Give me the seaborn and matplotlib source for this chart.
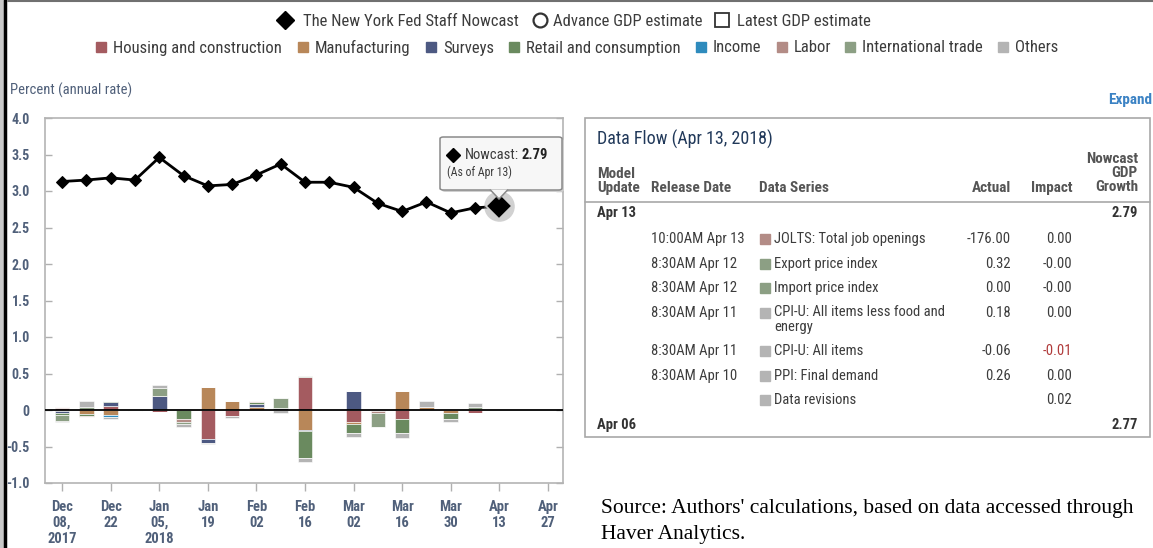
import matplotlib
matplotlib.use("Agg")
import matplotlib.pyplot as plt
from matplotlib import font_manager
from matplotlib.lines import Line2D
from matplotlib.patches import Rectangle, FancyBboxPatch, Polygon
import numpy as np
import pandas as pd
import seaborn as sns

# ---------------------------------------------------------------- datos
FECHAS_NOWCAST = ["2017-12-08", "2017-12-15", "2017-12-22", "2017-12-29",
                  "2018-01-05", "2018-01-12", "2018-01-19", "2018-01-26",
                  "2018-02-02", "2018-02-09", "2018-02-16", "2018-02-23",
                  "2018-03-02", "2018-03-09", "2018-03-16", "2018-03-23",
                  "2018-03-30", "2018-04-06", "2018-04-13"]
NOWCAST = [3.13, 3.15, 3.18, 3.15, 3.46, 3.21, 3.07, 3.09, 3.22, 3.37,
           3.12, 3.12, 3.05, 2.83, 2.72, 2.85, 2.70, 2.77, 2.79]

FECHAS_BARRAS = FECHAS_NOWCAST[:-1]
HOUSING = [0.03, 0, 0.05, 0, -0.03, 0, -0.40, -0.08, 0, 0,
           0.45, 0, -0.17, 0, -0.12, 0, 0, -0.04]
MANUFACTURING = [-0.01, -0.05, -0.065, -0.02, 0, 0, 0.31, 0.13, 0.045, 0,
                 -0.27, 0, -0.025, 0, 0.265, 0.045, -0.045, 0]
SURVEYS = [-0.035, 0, 0.055, 0, 0.19, 0, -0.055, 0, 0.04, 0.03,
           -0.015, 0, 0.265, -0.02, 0, 0, 0, 0.02]
RETAIL = [-0.02, -0.03, 0.02, 0, 0, -0.13, 0, 0, 0.02, 0,
          -0.375, 0, -0.115, 0, -0.195, 0, -0.075, 0]
INCOME = [0, 0, -0.025, 0, 0, 0, 0, 0, 0, 0,
          0, 0, 0, 0, 0, 0, 0, 0]
LABOR = [0.015, -0.02, 0, 0, 0, -0.03, 0, 0, 0.015, 0,
         0, 0, 0, -0.02, 0, 0, 0, 0]
INTL_TRADE = [-0.09, 0.035, 0, 0, 0.11, -0.03, 0, 0, 0, 0.13,
              0.02, 0, 0, -0.19, 0, 0, 0, 0.02]
OTHERS = [-0.015, 0.09, -0.03, 0, 0.045, -0.045, -0.015, -0.035, 0, -0.035,
          -0.055, 0, -0.06, 0, -0.07, 0.08, -0.04, 0.055]

CATEGORIAS = ["Housing and construction", "Manufacturing", "Surveys",
              "Retail and consumption", "Income", "Labor",
              "International trade", "Others"]
COLORES = ["#a45b60", "#b88759", "#4d5982", "#6a8a5f", "#2e8bbd",
           "#b38c86", "#8c9f84", "#b4b4b4"]
SERIES = [HOUSING, MANUFACTURING, SURVEYS, RETAIL, INCOME, LABOR,
          INTL_TRADE, OTHERS]

TICKS_X = ["2017-12-08", "2017-12-22", "2018-01-05", "2018-01-19",
           "2018-02-02", "2018-02-16", "2018-03-02", "2018-03-16",
           "2018-03-30", "2018-04-13", "2018-04-27"]
ETIQUETAS_X = ["Dec\n08,\n2017", "Dec\n22", "Jan\n05,\n2018", "Jan\n19",
               "Feb\n02", "Feb\n16", "Mar\n02", "Mar\n16", "Mar\n30",
               "Apr\n13", "Apr\n27"]
TICKS_Y = [-1.0, -0.5, 0, 0.5, 1.0, 1.5, 2.0, 2.5, 3.0, 3.5, 4.0]
ETIQUETAS_Y = ["-1.0", "-0.5", "0", "0.5", "1.0", "1.5", "2.0", "2.5",
               "3.0", "3.5", "4.0"]

# tabla "Data Flow"
TABLA_FECHAS = ["10:00AM Apr 13", "8:30AM Apr 12", "8:30AM Apr 12",
                "8:30AM Apr 11", "8:30AM Apr 11", "8:30AM Apr 10", ""]
TABLA_SERIES = ["JOLTS: Total job openings", "Export price index",
                "Import price index", "CPI-U: All items less food and\nenergy",
                "CPI-U: All items", "PPI: Final demand", "Data revisions"]
TABLA_COLORES = ["#b38c86", "#8c9f84", "#8c9f84", "#b4b4b4", "#b4b4b4",
                 "#b4b4b4", "#b4b4b4"]
TABLA_ACTUAL = ["-176.00", "0.32", "0.00", "0.18", "-0.06", "0.26", ""]
TABLA_IMPACTO = ["0.00", "-0.00", "-0.00", "0.00", "-0.01", "0.00", "0.02"]
TABLA_Y = [239, 264, 288, 313, 351, 376, 400]

# ---------------------------------------------------------------- estilo
sns.set_theme(style="white")
disponibles = {f.name for f in font_manager.fontManager.ttflist}
if "Roboto Condensed" in disponibles:
    FUENTE = "Roboto Condensed"
elif "Liberation Sans Narrow" in disponibles:
    FUENTE = "Liberation Sans Narrow"
else:
    FUENTE = "Roboto"
plt.rcParams["font.family"] = [FUENTE, "DejaVu Sans"]

W, H = 1153, 548
GRIS_AZUL = "#50607a"
TEXTO = "#3c3c3c"
T_LEY = 12
T_TAB = 10.5


def fx(x):
    return x / W


def fy(y):
    return 1 - y / H


fig = plt.figure(figsize=(W / 100, H / 100), dpi=100)
fig.patch.set_facecolor("white")

ax = fig.add_axes([fx(45), fy(483), (563 - 45) / W, (483 - 118) / H])

# barras apiladas (positivas y negativas por separado)
x_barras = pd.to_datetime(FECHAS_BARRAS)
valores = np.array(SERIES, dtype=float)
base_pos = np.zeros(len(FECHAS_BARRAS))
base_neg = np.zeros(len(FECHAS_BARRAS))
for serie, color in zip(valores, COLORES):
    pos = np.where(serie > 0, serie, 0)
    neg = np.where(serie < 0, serie, 0)
    ax.bar(x_barras, pos, bottom=base_pos, width=4.2, color=color,
           edgecolor="white", linewidth=0.4, zorder=2)
    ax.bar(x_barras, neg, bottom=base_neg, width=4.2, color=color,
           edgecolor="white", linewidth=0.4, zorder=2)
    base_pos += pos
    base_neg += neg

ax.axhline(0, color="black", lw=1.3, zorder=3)

x_linea = pd.to_datetime(FECHAS_NOWCAST)
sns.lineplot(x=x_linea, y=NOWCAST, ax=ax, color="black", lw=2,
             marker="D", markersize=6, markeredgecolor="black", zorder=4)
# punto resaltado del tooltip
ax.plot([x_linea[-1]], [NOWCAST[-1]], marker="o", markersize=22,
        color="#9a9a9a", alpha=0.45, zorder=5, markeredgewidth=0)
ax.plot([x_linea[-1]], [NOWCAST[-1]], marker="D", markersize=13,
        color="black", markeredgecolor="#d0d0d0", markeredgewidth=1.2,
        zorder=6)

ax.set_xlim(pd.Timestamp("2017-12-03 02:00"), pd.Timestamp("2018-05-01 08:00"))
ax.set_ylim(-1.0, 4.0)
ax.set_xticks(pd.to_datetime(TICKS_X))
ax.set_xticklabels(ETIQUETAS_X, color=GRIS_AZUL, fontsize=10.5,
                   linespacing=1.18, fontweight="bold")
ax.set_yticks(TICKS_Y)
ax.set_yticklabels(ETIQUETAS_Y, color=GRIS_AZUL, fontsize=10,
                   fontweight="bold")
ax.set_xlabel("")
ax.set_ylabel("")
ax.tick_params(axis="x", direction="out", length=6, width=1,
               color="#b0b0b0", pad=6, bottom=True)
ax.tick_params(axis="y", direction="in", length=5, width=1,
               color="#b0b0b0", pad=11, left=True, right=True)
for lado in ax.spines.values():
    lado.set_visible(True)
    lado.set_color("#b4b4b4")
    lado.set_linewidth(1.2)
ax.grid(False)

# tooltip
sombra = FancyBboxPatch((fx(442), fy(192)), (562 - 440) / W, (190 - 137) / H,
                        boxstyle="round,pad=0,rounding_size=0.003",
                        transform=fig.transFigure, facecolor="#cfcfcf",
                        edgecolor="none", zorder=9)
fig.patches.append(sombra)
caja = FancyBboxPatch((fx(440), fy(190)), (562 - 440) / W, (190 - 137) / H,
                      boxstyle="round,pad=0,rounding_size=0.003",
                      transform=fig.transFigure, facecolor="#f7f7f7",
                      edgecolor="#8a8a8a", lw=1.1, zorder=10)
fig.patches.append(caja)
punta = Polygon([(fx(490), fy(189.5)), (fx(499), fy(199)), (fx(508), fy(189.5))],
                closed=False, transform=fig.transFigure, facecolor="#f7f7f7",
                edgecolor="#8a8a8a", lw=1.1, zorder=11)
fig.patches.append(punta)
fig.add_artist(Line2D([fx(453)], [fy(155)], marker="D", markersize=7.5,
                      color="black", transform=fig.transFigure, zorder=12))
fig.text(fx(465), fy(155), "Nowcast:", fontsize=10.5, color=TEXTO,
         va="center", ha="left", zorder=12)
fig.text(fx(521), fy(155), "2.79", fontsize=10.5, color="#222222",
         fontweight="bold", va="center", ha="left", zorder=12)
fig.text(fx(447), fy(172), "(As of Apr 13)", fontsize=8.5, color=TEXTO,
         va="center", ha="left", zorder=12)

# leyendas superiores
fig.add_artist(Line2D([fx(285)], [fy(20)], marker="D", markersize=9.5,
                      color="black", transform=fig.transFigure))
fig.text(fx(303), fy(21.5), "The New York Fed Staff Nowcast", fontsize=T_LEY,
         color=TEXTO, va="center")
fig.add_artist(Line2D([fx(540)], [fy(20)], marker="o", markersize=10,
                      markerfacecolor="white", markeredgecolor="#333333",
                      markeredgewidth=1.6, transform=fig.transFigure))
fig.text(fx(553), fy(21.5), "Advance GDP estimate", fontsize=T_LEY,
         color=TEXTO, va="center")
fig.add_artist(Line2D([fx(722)], [fy(20)], marker="s", markersize=9.5,
                      markerfacecolor="white", markeredgecolor="#333333",
                      markeredgewidth=1.3, transform=fig.transFigure))
fig.text(fx(737), fy(21.5), "Latest GDP estimate", fontsize=T_LEY,
         color=TEXTO, va="center")

X_CUADROS = [101, 303, 431, 514, 701, 782, 850, 1003]
for xc, nombre, color in zip(X_CUADROS, CATEGORIAS, COLORES):
    fig.patches.append(Rectangle((fx(xc - 5), fy(52)), 10 / W, 10 / H,
                                 transform=fig.transFigure, color=color))
    fig.text(fx(xc + 12), fy(48), nombre, fontsize=T_LEY, color=TEXTO,
             va="center")

fig.text(fx(10), fy(90), "Percent (annual rate)", fontsize=10.5,
         color=GRIS_AZUL, va="center")
fig.text(fx(1152), fy(100), "Expand", fontsize=11, color="#3b82c4",
         fontweight="bold", va="center", ha="right")

# tabla Data Flow
fig.patches.append(Rectangle((fx(585), fy(437)), (1150 - 585) / W,
                             (437 - 118) / H, transform=fig.transFigure,
                             facecolor="none", edgecolor="#a8a8a8", lw=1.2))
fig.add_artist(Line2D([fx(585), fx(1150)], [fy(202), fy(202)],
                      color="#a8a8a8", lw=1.2, transform=fig.transFigure))
fig.text(fx(597), fy(139), "Data Flow (Apr 13, 2018)", fontsize=13,
         color="#21395a", va="center")

ENCAB = "#555555"
T_ENC = 11
fig.text(fx(597), fy(181), "Model\nUpdate", fontsize=T_ENC, color=ENCAB,
         fontweight="bold", va="center", linespacing=1.0)
fig.text(fx(651), fy(188), "Release Date", fontsize=T_ENC, color=ENCAB,
         fontweight="bold", va="center")
fig.text(fx(759), fy(188), "Data Series", fontsize=T_ENC, color=ENCAB,
         fontweight="bold", va="center")
fig.text(fx(1011), fy(188), "Actual", fontsize=T_ENC, color=ENCAB,
         fontweight="bold", va="center", ha="right")
fig.text(fx(1072), fy(188), "Impact", fontsize=T_ENC, color=ENCAB,
         fontweight="bold", va="center", ha="right")
fig.text(fx(1138), fy(173), "Nowcast\nGDP\nGrowth", fontsize=T_ENC,
         color=ENCAB, fontweight="bold", va="center", ha="right",
         multialignment="right", linespacing=1.0)

fig.text(fx(597), fy(213), "Apr 13", fontsize=T_TAB, color="#333333",
         fontweight="bold", va="center")
fig.text(fx(1138), fy(213), "2.79", fontsize=T_TAB, color="#333333",
         fontweight="bold", va="center", ha="right")
for fecha, serie, color, actual, impacto, yy in zip(
        TABLA_FECHAS, TABLA_SERIES, TABLA_COLORES, TABLA_ACTUAL,
        TABLA_IMPACTO, TABLA_Y):
    fig.text(fx(651), fy(yy), fecha, fontsize=T_TAB, color=TEXTO,
             va="center")
    fig.patches.append(Rectangle((fx(760), fy(yy + 5)), 10 / W, 10 / H,
                                 transform=fig.transFigure, color=color))
    if "\n" in serie:
        fig.text(fx(774), fy(yy - 7.5), serie, fontsize=T_TAB, color=TEXTO,
                 va="top", linespacing=1.0)
    else:
        fig.text(fx(774), fy(yy), serie, fontsize=T_TAB, color=TEXTO,
                 va="center")
    fig.text(fx(1011), fy(yy), actual, fontsize=T_TAB, color=TEXTO,
             va="center", ha="right")
    fig.text(fx(1072), fy(yy), impacto, fontsize=T_TAB,
             color="#b03a3a" if impacto == "-0.01" else TEXTO,
             va="center", ha="right")
fig.text(fx(597), fy(425), "Apr 06", fontsize=T_TAB, color="#333333",
         fontweight="bold", va="center")
fig.text(fx(1138), fy(425), "2.77", fontsize=T_TAB, color="#333333",
         fontweight="bold", va="center", ha="right")

# fuente
fig.text(fx(601), fy(509), "Source: Authors' calculations, based on data "
         "accessed through", fontsize=15.5, family="Liberation Serif",
         color="black", va="center")
fig.text(fx(601), fy(534), "Haver Analytics.", fontsize=15.5,
         family="Liberation Serif", color="black", va="center")

# bordes de la captura
fig.patches.append(Rectangle((0, 0), fx(3), 1, transform=fig.transFigure,
                             color="#c9c9c9", zorder=0))
fig.add_artist(Line2D([fx(4.5), fx(4.5)], [0, 1], color="black", lw=2.5,
                      transform=fig.transFigure))
fig.add_artist(Line2D([fx(8), 1], [fy(1), fy(1)], color="#707070", lw=1.5,
                      transform=fig.transFigure))

fig.savefig("out.png", dpi=100)
